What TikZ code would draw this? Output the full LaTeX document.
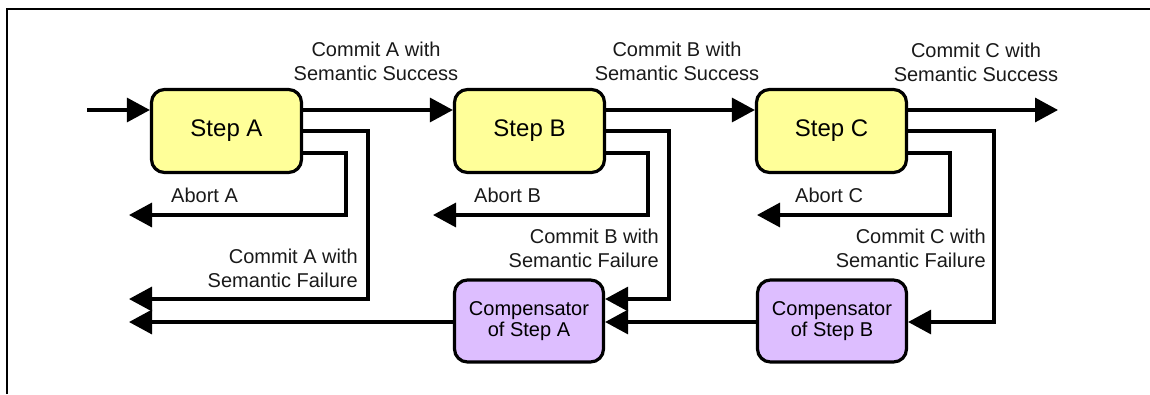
\documentclass[tikz,border=0pt]{standalone}
\usepackage{fontspec}
\setmainfont{Liberation Sans}
\usetikzlibrary{arrows.meta}
\definecolor{stepfill}{HTML}{FFFF99}
\definecolor{compfill}{HTML}{DDBEFF}
\begin{document}
\begin{tikzpicture}[x=1pt,y=-1pt,
  stepbox/.style={draw=black, line width=3.2pt, fill=stepfill, rounded corners=13pt,
    minimum width=150pt, minimum height=83pt, inner sep=0pt,
    font=\fontsize{24}{28}\selectfont},
  compbox/.style={draw=black, line width=3.2pt, fill=compfill, rounded corners=13pt,
    minimum width=149pt, minimum height=82pt, inner sep=0pt, align=center,
    font=\fontsize{20}{21}\selectfont},
  conn/.style={draw=black, line width=3.3pt},
  arr/.style={conn, -{Triangle[length=23pt,width=24pt]}},
  lbl/.style={inner sep=0pt, font=\fontsize{20}{24}\selectfont, text=black!90}
]
\useasboundingbox (0,0) rectangle (1150,394);
% frame
\draw[line width=2pt] (7,394) -- (7,9) -- (1150,9);

% boxes
\node[stepbox] (stepA) at (226.5,131) {Step A};
\node[stepbox] (stepB) at (529.5,131) {Step B};
\node[stepbox] (stepC) at (831.5,131) {Step C};
\node[compbox] (compA) at (529,321) {Compensator\\of Step A};
\node[compbox] (compB) at (832,321) {Compensator\\of Step B};

% free ends
\coordinate (inA) at (87,110);
\coordinate (outC) at (1058,110);
\coordinate (abAend) at (129,215);
\coordinate (cfAend) at (129,299);
\coordinate (cpAend) at (129,322);
\coordinate (abBend) at (433,215);
\coordinate (abCend) at (757,215);

% main flow
\draw[arr] (inA) -- (inA -| stepA.west);
\draw[arr] (stepA.east |- inA) -- (stepB.west |- inA);
\draw[arr] (stepB.east |- inA) -- (stepC.west |- inA);
\draw[arr] (stepC.east |- inA) -- (outC);

% step A exits
\draw[arr] (stepA.east |- 0,153) -| (346,215) -- (abAend);
\draw[arr] (stepA.east) -| (368,299) -- (cfAend);
\draw[arr] (compA.west |- cpAend) -- (cpAend);

% step B exits
\draw[arr] (stepB.east |- 0,153) -| (648,215) -- (abBend);
\draw[arr] (stepB.east) -| (669,299) -- (compA.east |- 0,299);
\draw[arr] (compB.west |- cpAend) -- (compA.east |- cpAend);

% step C exits
\draw[arr] (stepC.east |- 0,153) -| (950,215) -- (abCend);
\draw[arr] (stepC.east) -| (994,322) -- (compB.east |- cpAend);

% labels
\node[lbl, align=center] (lsA) at (376,61) {Commit A with\\Semantic Success};
\node[lbl, align=center] (lsB) at (677,61) {Commit B with\\Semantic Success};
\node[lbl, align=center] (lsC) at (976,62.5) {Commit C with\\Semantic Success};
\node[lbl, anchor=base west] (laA) at (171,202) {Abort A};
\node[lbl, anchor=base west] (laB) at (474,202) {Abort B};
\node[lbl, anchor=base west] (laC) at (795,202) {Abort C};
\node[lbl, align=right, anchor=east] (lfA) at (358,268) {Commit A with\\Semantic Failure};
\node[lbl, align=right, anchor=east] (lfB) at (659,248) {Commit B with\\Semantic Failure};
\node[lbl, align=right, anchor=east] (lfC) at (986,248) {Commit C with\\Semantic Failure};
\end{tikzpicture}
\end{document}
